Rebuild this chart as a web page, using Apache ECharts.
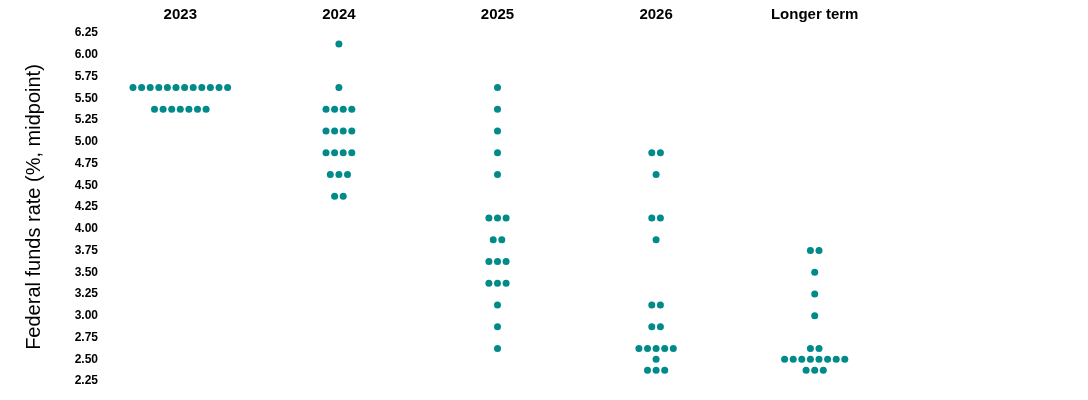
<!DOCTYPE html>
<html>
<head>
<meta charset="utf-8">
<script src="https://cdn.jsdelivr.net/npm/echarts@6/dist/echarts.min.js"></script>
<style>
  html, body { margin: 0; padding: 0; background: #fff; }
  #chart-dots { width: 1088px; height: 400px; }
</style>
</head>
<body>
<div id="chart-dots"></div>
<script>
// columns of the dot plot
const columns = ['2023', '2024', '2025', '2026', 'Longer term'];

// midpoint of each participant's rate, and how many participants sit there
const rates2023 = [5.625, 5.375];
const counts2023 = [12, 7];

const rates2024 = [6.125, 5.625, 5.375, 5.125, 4.875, 4.625, 4.375];
const counts2024 = [1, 1, 4, 4, 4, 3, 2];

const rates2025 = [5.625, 5.375, 5.125, 4.875, 4.625, 4.125, 3.875, 3.625, 3.375, 3.125, 2.875, 2.625];
const counts2025 = [1, 1, 1, 1, 1, 3, 2, 3, 3, 1, 1, 1];

const rates2026 = [4.875, 4.625, 4.125, 3.875, 3.125, 2.875, 2.625, 2.5, 2.375];
const counts2026 = [2, 1, 2, 1, 2, 2, 5, 1, 3];

const ratesLonger = [3.75, 3.5, 3.25, 3.0, 2.625, 2.5, 2.375];
const countsLonger = [2, 1, 1, 1, 2, 8, 3];

const yTicks = ['2.25', '2.50', '2.75', '3.00', '3.25', '3.50', '3.75', '4.00', '4.25', '4.50', '4.75', '5.00', '5.25', '5.50', '5.75', '6.00', '6.25'];

const groups = [
    [rates2023, counts2023],
    [rates2024, counts2024],
    [rates2025, counts2025],
    [rates2026, counts2026],
    [ratesLonger, countsLonger]
];

const DOT_GAP = 8.6; // px between neighbouring dots in a row
const FONT = "'Liberation Sans', Arial, sans-serif";

// one data item per dot, spread sideways around the column centre
const dots = [];
groups.forEach(([rates, counts], col) => {
    rates.forEach((r, i) => {
        const n = counts[i];
        for (let k = 0; k < n; k++) {
            dots.push({
                value: [col, r],
                symbolOffset: [(k - (n - 1) / 2) * DOT_GAP, 0]
            });
        }
    });
});

const TheChart = echarts.init(document.getElementById('chart-dots'));

TheChart.setOption({
    animation: false,
    grid: { left: 101, right: 194, top: 33, bottom: 19 },
    xAxis: {
        type: 'category',
        position: 'top',
        data: columns,
        axisLine: { show: false },
        axisTick: { show: false },
        splitLine: { show: false },
        axisLabel: {
            margin: 11,
            color: '#000',
            fontFamily: FONT,
            fontWeight: 'bold',
            fontSize: 15
        }
    },
    yAxis: {
        type: 'value',
        min: 2.25,
        max: 6.25,
        interval: 0.25,
        name: 'Federal funds rate (%, midpoint)',
        nameLocation: 'middle',
        nameGap: 57,
        nameTextStyle: {
            color: '#000',
            fontFamily: FONT,
            fontSize: 20
        },
        axisLine: { show: false },
        axisTick: { show: false },
        splitLine: { show: false },
        axisLabel: {
            margin: 3,
            color: '#000',
            fontFamily: FONT,
            fontWeight: 'bold',
            fontSize: 12,
            formatter: v => yTicks[Math.round((v - 2.25) / 0.25)]
        }
    },
    series: [{
        type: 'scatter',
        symbol: 'circle',
        symbolSize: 7,
        data: dots,
        itemStyle: {
            color: '#008a8a',
            opacity: 1
        }
    }]
});
</script>
</body>
</html>
